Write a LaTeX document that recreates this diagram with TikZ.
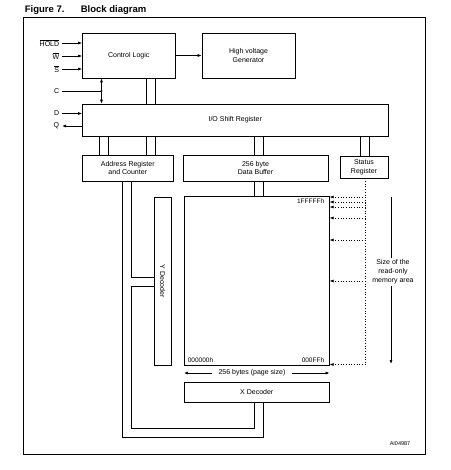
\documentclass[tikz,border=0pt]{standalone}
\usepackage{fontspec}
\setmainfont{Liberation Sans}
\usepackage{tikz}
\usetikzlibrary{arrows.meta,positioning,calc}

\begin{document}
\begin{tikzpicture}[
            x=1pt, y=-1pt,
            >={Latex[length=4pt,width=3pt]},
            every path/.style={line width=0.7pt},
            blk/.style={draw, inner sep=0pt, align=center, font=\fontsize{7}{8.7}\selectfont},
            pinlabel/.style={anchor=east, inner sep=2.5pt, font=\fontsize{7}{8}\selectfont},
            memlabel/.style={inner sep=0pt, font=\fontsize{6.5}{7.5}\selectfont},
            dotarrow/.style={->, dotted}
        ]
            \useasboundingbox (0,0) rectangle (450,470);

            \node[anchor=west, inner sep=0pt, font=\bfseries\fontsize{9.5}{11}\selectfont] (fignum) at (24.5,10.5) {Figure 7.};
            \node[anchor=west, inner sep=0pt, font=\bfseries\fontsize{9.5}{11}\selectfont] (figtitle) at (80.5,10.5) {Block diagram};
            \draw (23,17) rectangle (425,454);

            \node[blk, minimum width=92.5pt, minimum height=45pt] (ctrl) at (128.75,55.5) {Control Logic};
            \node[blk, minimum width=93pt, minimum height=45pt] (hvg) at (248.5,55.5) {High voltage\\Generator};
            \node[blk, minimum width=305.5pt, minimum height=32pt] (io) at (235.25,120) {I/O Shift Register};
            \node[blk, minimum width=90.5pt, minimum height=26pt] (addr) at (127.75,168) {Address Register\\and Counter};
            \node[blk, minimum width=145pt, minimum height=26pt] (dbuf) at (255.5,168) {256 byte\\Data Buffer};
            \node[blk, minimum width=48pt, minimum height=22pt] (stat) at (364,167) {Status\\Register};
            \node[blk, rotate=-90, minimum width=168pt, minimum height=17pt] (ydec) at (162.5,281) {Y Decoder};
            \node[blk, minimum width=145pt, minimum height=169pt] (mem) at (256.75,281.25) {};
            \node[blk, minimum width=145pt, minimum height=20pt] (xdec) at (256.75,392.25) {X Decoder};

            \node[pinlabel] (hold) at (62,43) {$\overline{\mbox{HOLD}}$};
            \node[pinlabel] (w) at (62,56) {$\overline{\mbox{W}}$};
            \node[pinlabel] (s) at (62,69) {$\overline{\mbox{S}}$};
            \node[pinlabel] (c) at (62,91) {C};
            \node[pinlabel] (d) at (62,113.5) {D};
            \node[pinlabel] (q) at (62,126) {Q};
            \coordinate (cdot) at (101.5,91);

            \draw[->] (hold) -- (hold -| ctrl.west);
            \draw[->] (w) -- (w -| ctrl.west);
            \draw[->] (s) -- (s -| ctrl.west);
            \draw[->] (ctrl) -- (hvg);
            \draw (c) -- (cdot);
            \fill (cdot) circle (1.1pt);
            \draw[<->] (ctrl.south -| cdot) -- (io.north -| cdot);
            \draw[->] (d) -- (d -| io.west);
            \draw[->] (q -| io.west) -- (q);

            % buses
            \draw (ctrl.south -| 146,0) -- (io.north -| 146,0);
            \draw (ctrl.south -| 155,0) -- (io.north -| 155,0);
            \draw (io.south -| 99,0) -- (addr.north -| 99,0);
            \draw (io.south -| 108,0) -- (addr.north -| 108,0);
            \draw (io.south -| 146,0) -- (addr.north -| 146,0);
            \draw (io.south -| 155,0) -- (addr.north -| 155,0);
            \draw (io.south -| 254,0) -- (dbuf.north -| 254,0);
            \draw (io.south -| 263,0) -- (dbuf.north -| 263,0);
            \draw (io.south -| 360,0) -- (stat.north -| 360,0);
            \draw (io.south -| 369,0) -- (stat.north -| 369,0);
            \draw (dbuf.south -| 254,0) -- (mem.north -| 254,0);
            \draw (dbuf.south -| 263,0) -- (mem.north -| 263,0);
            \draw (addr.south -| 122,0) -- (122,437) -- (263,437) -- (xdec.south -| 263,0);
            % ydec is turned, so its south side faces left
            \draw (addr.south -| 131,0) -- (131,277) -- (ydec.south |- 0,277);
            \draw (ydec.south |- 0,286) -- (131,286) -- (131,428) -- (254,428) -- (xdec.south -| 254,0);

            % read-only area
            \coordinate (roend) at (365.5,364.5);
            \draw[dotted] (stat.south -| roend) -- (roend);
            \draw[dotarrow] (roend |- 0,197) -- (mem.east |- 0,197);
            \draw[dotarrow] (roend |- 0,202) -- (mem.east |- 0,202);
            \draw[dotarrow] (roend |- 0,207) -- (mem.east |- 0,207);
            \draw[dotarrow] (roend |- 0,218) -- (mem.east |- 0,218);
            \draw[dotarrow] (roend |- 0,240) -- (mem.east |- 0,240);
            \draw[dotarrow] (roend |- 0,281) -- (mem.east |- 0,281);
            \draw[dotarrow] (roend) -- (mem.east |- roend);

            \node[align=center, inner sep=1pt, font=\fontsize{7}{9}\selectfont] (rosize) at (393,272) {Size of the\\read-only\\memory area};
            \coordinate (sztop) at (391,197);
            \coordinate (szbot) at (391,364);
            \draw (sztop) -- (sztop |- rosize.north);
            \draw[->] (szbot |- rosize.south) -- (szbot);

            \node[memlabel, anchor=east] (topaddr) at (324.5,201.5) {1FFFFFh};
            \node[memlabel, anchor=west] (lowaddr) at (187.5,360.5) {000000h};
            \node[memlabel, anchor=east] (pageend) at (324.5,360.5) {000FFh};

            \node[inner sep=0pt, font=\fontsize{7}{8}\selectfont] (pgsize) at (252,373) {256 bytes (page size)};
            \draw[->] ([xshift=-6pt]pgsize.west) -- (pgsize.west -| mem.west);
            \draw[->] ([xshift=6pt]pgsize.east) -- (pgsize.east -| mem.east);

            \node[inner sep=0pt, font=\fontsize{5.5}{6.5}\selectfont] (figid) at (400,443.5) {AI04987};
        \end{tikzpicture}
\end{document}
